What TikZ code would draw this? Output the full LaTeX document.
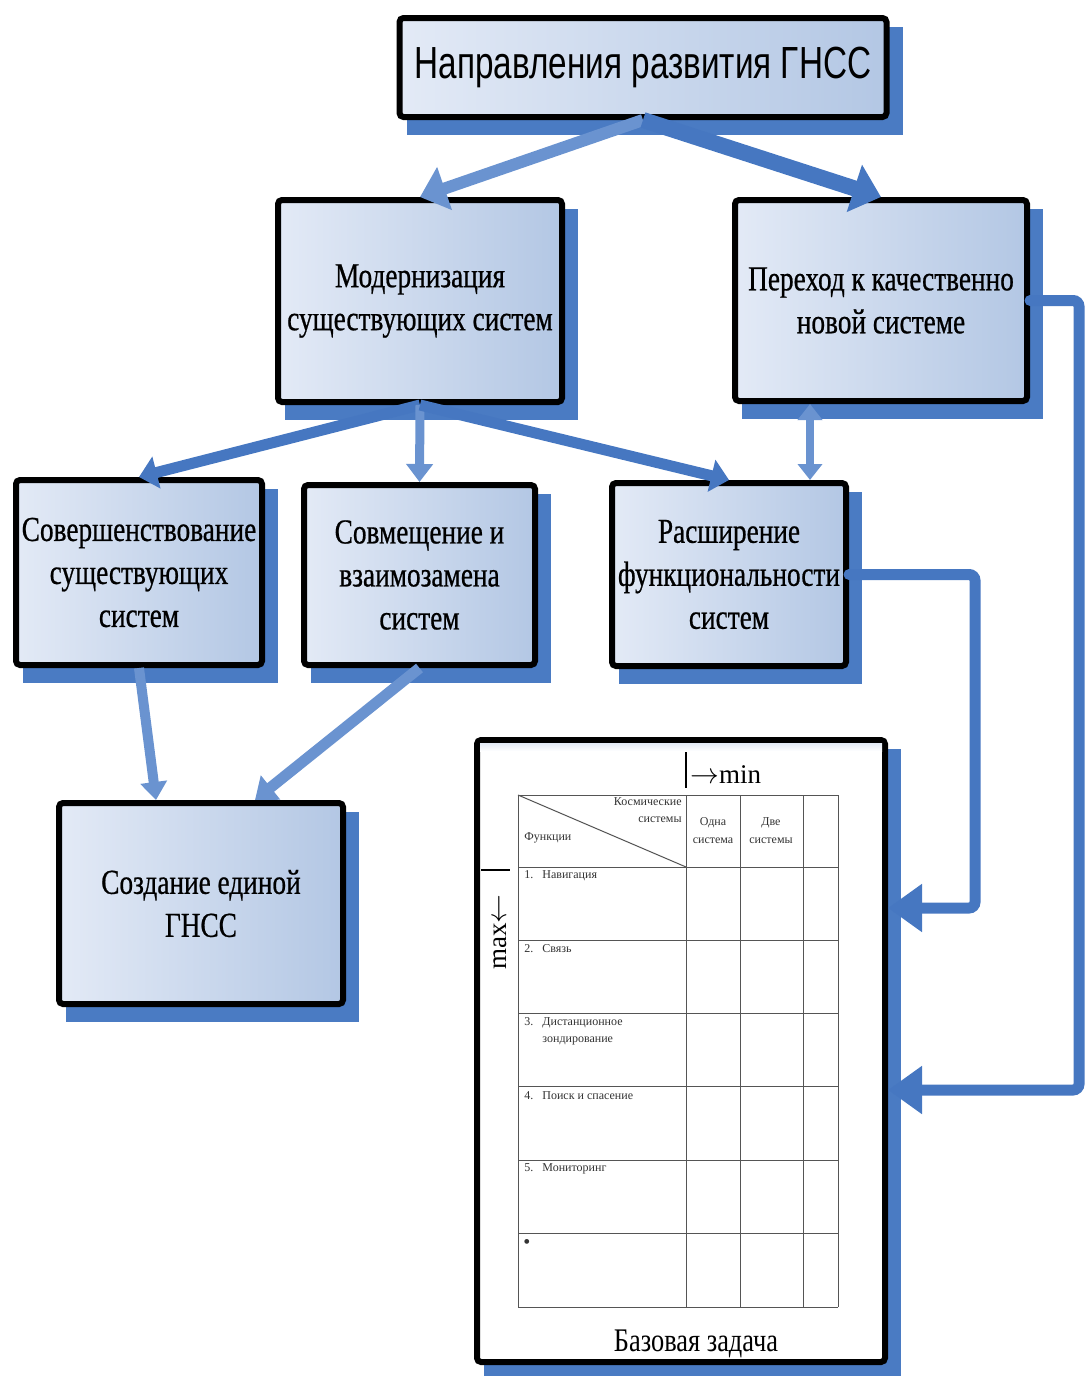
\documentclass[tikz,border=0pt]{standalone}
\usepackage{fontspec}
\setmainfont{Liberation Serif}
\newfontfamily\boxfont[FakeStretch=0.78,FakeBold=0.6]{Liberation Serif}
\newfontfamily\headfont[FakeStretch=0.74]{Liberation Sans}
\newfontfamily\capfont[FakeStretch=0.8]{Liberation Serif}
\usepackage{tikz}
\usetikzlibrary{arrows.meta,positioning,calc,backgrounds}
\definecolor{cShade}{HTML}{4A7BC3}
\definecolor{cArrow}{HTML}{4677C1}
\definecolor{cLite}{HTML}{6A93D0}
\definecolor{cBoxL}{HTML}{E3EAF6}
\definecolor{cBoxR}{HTML}{B3C7E4}
\definecolor{cGrid}{HTML}{555555}
\tikzset{
  gbox/.style={draw=black,line width=3pt,rounded corners=2pt,left color=cBoxL,right color=cBoxR,align=center,inner sep=1pt,text=black,font=\boxfont\fontsize{17.5}{21.5}\selectfont},
  panel/.style={draw=black,line width=3pt,rounded corners=2pt,fill=white},
  bigarr/.style={cArrow,line width=8pt,-{Triangle[length=14pt,width=24pt]}},
  arr/.style={cArrow,line width=5.5pt,-{Triangle[length=9pt,width=16pt]}},
  larr/.style={cLite,line width=4.5pt,-{Triangle[length=9pt,width=13pt]}},
  dlarr/.style={cLite,line width=4pt,{Triangle[length=8pt,width=12pt]}-{Triangle[length=8pt,width=12pt]}},
  conn/.style={cArrow,line width=5.5pt,rounded corners=3pt,line cap=round,-{Triangle[length=17pt,width=23pt]}},
  grid line/.style={cGrid,line width=0.5pt},
  rule/.style={black,line width=0.7pt},
  tcell/.style={inner sep=0pt,text=black!80,font=\fontsize{6}{9}\selectfont},
  axlbl/.style={inner sep=0pt,font=\fontsize{13.5}{16}\selectfont},
}

\begin{document}
\begin{tikzpicture}[x=0.5pt,y=-0.5pt]
  \useasboundingbox (0,0) rectangle (1084,1376);
  \node[gbox,font=\headfont\fontsize{22.5}{26}\selectfont,minimum width=243.5pt,minimum height=49.5pt] (top) at (643,67.5) {Направления развития ГНСС};
  \node[gbox,minimum width=142pt,minimum height=101pt] (mod) at (420,301) {Модернизация\\существующих систем};
  \node[gbox,minimum width=146pt,minimum height=100.5pt] (per) at (881,300.5) {Переход к качественно\\новой системе};
  \node[gbox,minimum width=123pt,minimum height=92.5pt] (sov) at (139,572.5) {Совершенствование\\существующих\\систем};
  \node[gbox,minimum width=115.5pt,minimum height=90pt] (smv) at (419.5,575) {Совмещение и\\взаимозамена\\систем};
  \node[gbox,minimum width=117pt,minimum height=91.5pt] (ras) at (729,574.5) {Расширение\\функциональности\\систем};
  \node[gbox,minimum width=142pt,minimum height=100.5pt] (soz) at (201,903.5) {Создание единой\\ГНСС};
  \node[panel,minimum width=204pt,minimum height=311pt] (panel) at (681,1051) {};
  \shade[top color=cBoxL,bottom color=white] ($(panel.north west)+(6,6)$) rectangle ($(panel.north east)+(-6,14)$);
  \begin{scope}[on background layer]
    \foreach \n in {top,mod,per,sov,smv,ras,soz,panel}
      \fill[cShade] ($(\n.north west)+(10,12)$) rectangle ($(\n.south east)+(13,15)$);
  \end{scope}

  \foreach \y in {795,867,940,1013,1086,1160,1233,1307} \draw[grid line] (518,\y) -- (838,\y);
  \foreach \x in {518,686,740,803,838} \draw[grid line] (\x,795) -- (\x,1307);
  \draw[grid line] (518,795) -- (686,867);
  \node[tcell,anchor=east] (kos) at (682,802) {Космические};
  \node[tcell,anchor=east] (kos2) at (682,820) {системы};
  \node[tcell,anchor=west] (fun) at (524,838) {Функции};
  \node[tcell,align=center] (odna) at (713,831) {Одна\\система};
  \node[tcell,align=center] (dve) at (771,831) {Две\\системы};
  \foreach \y/\t [count=\i] in {876/Навигация,949/Связь,1023/Дистанционное,1096/Поиск и спасение,1169/Мониторинг}
    \node[tcell,anchor=west] (f\i) at (524,\y) {\makebox[9pt][l]{\i.}\t};
  \node[tcell,anchor=west] (f3b) at (542,1041) {зондирование};
  \node[tcell,anchor=west,font=\fontsize{10}{10}\selectfont] (f6) at (523,1244) {•};
  \draw[rule] (686,752) -- (686,788);
  \node[axlbl,anchor=west] (minl) at (690,775) {$\rightarrow$min};
  \draw[rule] (481,870) -- (510,870);
  \node[axlbl,rotate=90] (maxl) at (500,932) {max$\leftarrow$};
  \node[font=\capfont\fontsize{16.5}{18}\selectfont] (cap) at (696,1344) {Базовая задача};

  \draw[larr,line width=6pt,-{Triangle[length=13pt,width=22pt]}] (top.south) -- (mod.north);
  \draw[bigarr] (top.south) -- (per.north);
  \draw[arr] (mod.south) -- (sov.north);
  \draw[larr] (mod.south) -- (smv.north);
  \draw[arr] (mod.south) -- (ras.north);
  \draw[dlarr] ($(ras.north)+(81,0)$) -- ($(per.south)+(-71,0)$);
  \draw[larr,line width=5pt] (sov.south) -- ($(soz.north)+(-45,0)$);
  \draw[larr,line width=5.5pt,-{Triangle[length=10pt,width=15pt]}] (smv.south) -- ($(soz.north)+(54,0)$);
  \draw[conn] (per.east) -- ++(49,0) |- ($(panel.east)+(0,39)$);
  \draw[conn] (ras.east) -- ++(126,0) |- ($(panel.east)+(0,-143)$);
\end{tikzpicture}
\end{document}
